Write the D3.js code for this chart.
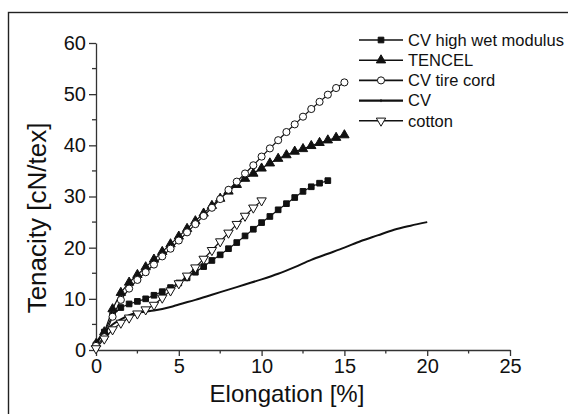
<!DOCTYPE html>
<html>
<head>
<meta charset="utf-8">
<script src="https://cdn.jsdelivr.net/npm/d3@7"></script>
<style>
  body { margin: 0; background: #fff; }
  text { font-family: "Liberation Sans", Arial, sans-serif; fill: #111; }
</style>
</head>
<body>
<div id="chart"></div>
<script>
// elongation steps (%) for the marker series
var elong15 = [0, 0.5, 1, 1.5, 2, 2.5, 3, 3.5, 4, 4.5, 5, 5.5, 6, 6.5, 7, 7.5, 8, 8.5, 9, 9.5, 10, 10.5, 11, 11.5, 12, 12.5, 13, 13.5, 14, 14.5, 15];
var elong14 = elong15.slice(0, 29);
var elong10 = elong15.slice(0, 21);

// tenacity values (cN/tex)
var hwmTenacity = [1.0, 3.5, 6.8, 8.3, 9.0, 9.5, 10.0, 10.7, 11.4, 12.2, 13.1, 14.1, 15.2, 16.3, 17.5, 18.6, 19.8, 21.0, 22.3, 23.6, 24.9, 26.1, 27.4, 28.6, 29.8, 31.0, 31.9, 32.6, 33.1];
var tencelTenacity = [1.2, 3.5, 8.0, 11.2, 13.2, 14.7, 16.2, 17.7, 19.2, 20.7, 22.2, 23.7, 25.2, 26.7, 28.2, 29.6, 31.0, 32.3, 33.5, 34.5, 35.5, 36.5, 37.4, 38.1, 38.8, 39.3, 39.9, 40.5, 41.0, 41.5, 42.0];
var tireTenacity = [0.8, 2.5, 6.5, 9.8, 12.0, 13.7, 15.2, 16.7, 18.3, 19.8, 21.4, 23.0, 24.6, 26.2, 27.8, 29.5, 31.3, 32.9, 34.5, 36.1, 37.8, 39.4, 41.0, 42.6, 44.1, 45.6, 47.1, 48.5, 49.9, 51.2, 52.3];
var cottonTenacity = [0.3, 2.2, 4.0, 5.3, 6.3, 7.1, 7.9, 8.8, 10.2, 11.6, 13.0, 14.5, 16.1, 17.8, 19.5, 21.2, 22.9, 24.6, 26.2, 27.8, 29.2];

// plain CV curve (no markers)
var cvElong = [0, 0.5, 1, 1.5, 2, 2.5, 3, 3.5, 4, 4.5, 5, 6, 7, 8, 9, 10, 11, 12, 13, 14, 15, 16, 17, 18, 19, 20];
var cvTenacity = [1.5, 3.5, 5.0, 6.0, 6.8, 7.3, 7.5, 7.7, 8.0, 8.4, 8.9, 9.8, 10.8, 11.8, 12.8, 13.8, 14.9, 16.2, 17.6, 18.8, 20.0, 21.3, 22.4, 23.5, 24.3, 25.0];

var xTicks = [0, 5, 10, 15, 20, 25];
var yTicks = [0, 10, 20, 30, 40, 50, 60];

var seriesNames = ["CV high wet modulus", "TENCEL", "CV tire cord", "CV", "cotton"];

var width = 568, height = 414;
var margin = {top: 43, right: 58, bottom: 64, left: 96};

var svg = d3.select("#chart").append("svg")
    .attr("width", width)
    .attr("height", height);

// outer frame, cut off at right and bottom like the scan
svg.append("rect")
    .attr("x", 8.5).attr("y", 12.5)
    .attr("width", 620).attr("height", 440)
    .attr("fill", "none")
    .attr("stroke", "#222")
    .attr("stroke-width", 1.4);

var x = d3.scaleLinear().domain([0, 25]).range([margin.left, width - margin.right]);
var y = d3.scaleLinear().domain([0, 60]).range([height - margin.bottom, margin.top]);

function zip(xs, ys) {
    return xs.map(function (d, i) { return [d, ys[i]]; });
}

var series = [
    {name: seriesNames[0], pts: zip(elong14, hwmTenacity), sym: d3.symbolSquare, size: 32, fill: "#111", rot: 0},
    {name: seriesNames[1], pts: zip(elong15, tencelTenacity), sym: d3.symbolTriangle, size: 38, fill: "#111", rot: 0},
    {name: seriesNames[2], pts: zip(elong15, tireTenacity), sym: d3.symbolCircle, size: 40, fill: "#fff", rot: 0},
    {name: seriesNames[3], pts: zip(cvElong, cvTenacity), sym: null},
    {name: seriesNames[4], pts: zip(elong10, cottonTenacity), sym: d3.symbolTriangle, size: 38, fill: "#fff", rot: 180}
];

// minor ticks
var xMinor = d3.range(0, 25.01, 2.5).filter(function (d) { return d % 5 !== 0; });
var yMinor = d3.range(0, 60.01, 5).filter(function (d) { return d % 10 !== 0; });

var xAxis = svg.append("g")
    .attr("transform", "translate(0," + y(0) + ")")
    .call(d3.axisBottom(x).tickValues(xTicks).tickSize(6).tickPadding(3).tickSizeOuter(0));
xAxis.selectAll(".minor").data(xMinor).enter().append("line")
    .attr("x1", function (d) { return x(d); }).attr("x2", function (d) { return x(d); })
    .attr("y1", 0).attr("y2", 3.5).attr("stroke", "#333").attr("stroke-width", 1.3);

var yAxis = svg.append("g")
    .attr("transform", "translate(" + x(0) + ",0)")
    .call(d3.axisLeft(y).tickValues(yTicks).tickSize(7).tickPadding(3).tickSizeOuter(0));
yAxis.selectAll(".minor").data(yMinor).enter().append("line")
    .attr("y1", function (d) { return y(d); }).attr("y2", function (d) { return y(d); })
    .attr("x1", 0).attr("x2", -4).attr("stroke", "#333").attr("stroke-width", 1.3);

svg.selectAll(".domain, .tick line").attr("stroke", "#333").attr("stroke-width", 1.3);
svg.selectAll(".tick text")
    .attr("font-family", "Liberation Sans, Arial, sans-serif")
    .attr("font-size", 20)
    .attr("fill", "#111");

// axis titles
svg.append("text")
    .attr("x", 287).attr("y", 402)
    .attr("text-anchor", "middle")
    .attr("font-size", 24)
    .text("Elongation [%]");

svg.append("text")
    .attr("transform", "translate(46,218) rotate(-90)")
    .attr("text-anchor", "middle")
    .attr("font-size", 26)
    .text("Tenacity [cN/tex]");

var line = d3.line()
    .x(function (d) { return x(d[0]); })
    .y(function (d) { return y(d[1]); });

var plot = svg.append("g");

series.forEach(function (s) {
    var isCv = !s.sym;
    plot.append("path")
        .datum(s.pts)
        .attr("d", isCv ? line.curve(d3.curveMonotoneX)(s.pts) : line.curve(d3.curveLinear)(s.pts))
        .attr("fill", "none")
        .attr("stroke", "#111")
        .attr("stroke-width", isCv ? 2 : 1.2);
    line.curve(d3.curveLinear);
});

series.forEach(function (s) {
    if (!s.sym) return;
    plot.selectAll(null)
        .data(s.pts)
        .enter()
        .append("path")
        .attr("d", d3.symbol().type(s.sym).size(s.size))
        .attr("transform", function (d) {
            return "translate(" + x(d[0]) + "," + y(d[1]) + ") rotate(" + s.rot + ")";
        })
        .attr("fill", s.fill)
        .attr("stroke", "#111")
        .attr("stroke-width", 1);
});

// legend
var legend = svg.append("g").attr("transform", "translate(359,40)");
var rows = legend.selectAll("g")
    .data(series)
    .enter()
    .append("g")
    .attr("transform", function (d, i) { return "translate(0," + i * 20.2 + ")"; });

rows.append("line")
    .attr("x1", 0).attr("x2", 44)
    .attr("stroke", "#111")
    .attr("stroke-width", function (d) { return d.sym ? 1.6 : 2.2; });

rows.append("path")
    .attr("d", function (d) {
        return d.sym ? d3.symbol().type(d.sym).size(d.size)() : "M0,-1.5V1.5";
    })
    .attr("transform", function (d) { return "translate(22,0) rotate(" + (d.rot || 0) + ")"; })
    .attr("fill", function (d) { return d.fill || "none"; })
    .attr("stroke", "#111")
    .attr("stroke-width", 1);

rows.append("text")
    .attr("x", 49)
    .attr("dy", "0.35em")
    .attr("font-size", 16.5)
    .text(function (d) { return d.name; });
</script>
</body>
</html>
